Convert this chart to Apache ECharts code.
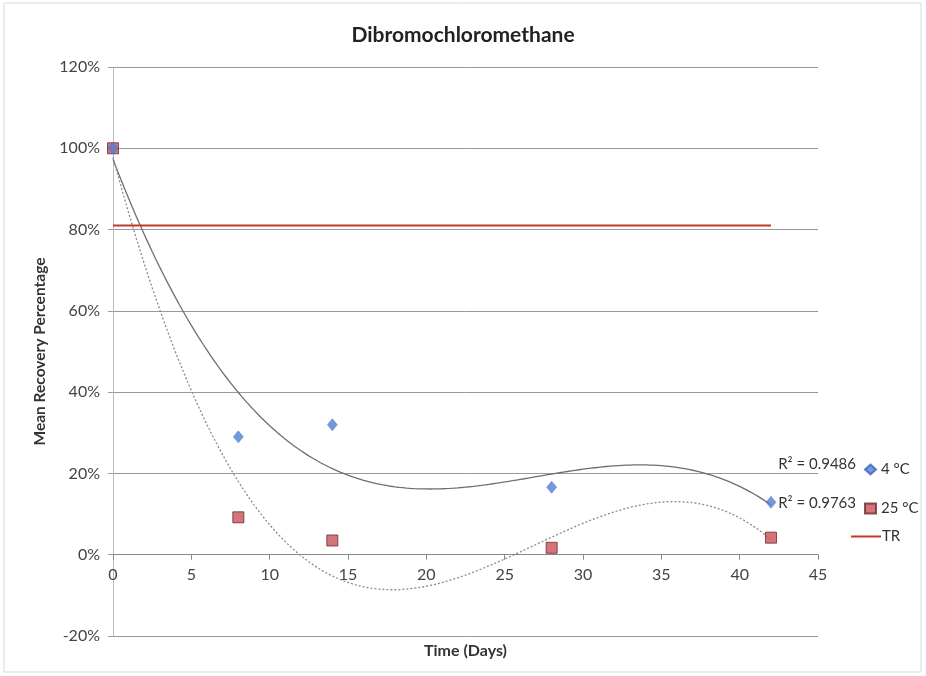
<!DOCTYPE html>
<html>
<head>
<meta charset="utf-8">
<script src="https://cdn.jsdelivr.net/npm/echarts@6/dist/echarts.min.js"></script>
<style>
html,body{margin:0;padding:0;background:#fff;}
#chart{width:926px;height:676px;}
</style>
</head>
<body>
<div id="chart"></div>
<script>
// ---- data ----
const days4 = [0, 8, 14, 28, 42];
const recovery4 = [100, 29, 32, 16.6, 12.9];
const days25 = [0, 8, 14, 28, 42];
const recovery25 = [100, 9.2, 3.5, 1.7, 4.2];
const trDays = [0, 42];
const trValues = [81, 81];
const r2Labels = ['R² = 0.9486', 'R² = 0.9763'];
const seriesNames = ['4 °C', '25 °C', 'TR'];

// cubic least-squares trendline (as Excel's polynomial order-3 trendline)
function cubicFit(xs, ys) {
  const n = 4;
  const A = [], b = [];
  for (let i = 0; i < n; i++) {
    A.push([]);
    for (let j = 0; j < n; j++) {
      let s = 0;
      xs.forEach(x => { s += Math.pow(x, i + j); });
      A[i].push(s);
    }
    let t = 0;
    xs.forEach((x, k) => { t += Math.pow(x, i) * ys[k]; });
    b.push(t);
  }
  for (let c = 0; c < n; c++) {
    let p = c;
    for (let r = c + 1; r < n; r++) if (Math.abs(A[r][c]) > Math.abs(A[p][c])) p = r;
    [A[c], A[p]] = [A[p], A[c]]; [b[c], b[p]] = [b[p], b[c]];
    for (let r = c + 1; r < n; r++) {
      const f = A[r][c] / A[c][c];
      for (let k = c; k < n; k++) A[r][k] -= f * A[c][k];
      b[r] -= f * b[c];
    }
  }
  const coef = new Array(n).fill(0);
  for (let r = n - 1; r >= 0; r--) {
    let s = b[r];
    for (let k = r + 1; k < n; k++) s -= A[r][k] * coef[k];
    coef[r] = s / A[r][r];
  }
  return coef;
}
function trendPoints(xs, ys) {
  const c = cubicFit(xs, ys);
  const out = [];
  const x0 = Math.min(...xs), x1 = Math.max(...xs);
  for (let x = x0; x <= x1 + 1e-9; x += 0.25) {
    out.push([x, c[0] + c[1] * x + c[2] * x * x + c[3] * x * x * x]);
  }
  return out;
}

const FONT = 'Lato';
const GRID_TOP = 67, GRID_BOTTOM = 40;
const plotH = 676 - GRID_TOP - GRID_BOTTOM;
const Y_MIN = -20, Y_MAX = 120;
const zeroOffset = -plotH * (0 - Y_MIN) / (Y_MAX - Y_MIN);

const chart = echarts.init(document.getElementById('chart'), null, {renderer: 'canvas'});
chart.setOption({
  backgroundColor: '#fff',
  animation: false,
  title: {
    text: 'Dibromochloromethane',
    left: 'center', top: 20,
    textStyle: {fontFamily: FONT, fontSize: 21, fontWeight: 'bold', color: '#222'}
  },
  grid: {left: 113, right: 108, top: GRID_TOP, bottom: GRID_BOTTOM, containLabel: false, outerBoundsMode: 'none'},
  legend: [
    {data: [seriesNames[0]], left: 859, top: 457, itemWidth: 11, itemHeight: 10, itemGap: 4,
     textStyle: {fontFamily: FONT, fontSize: 15, color: '#333'}},
    {data: [seriesNames[1]], left: 859, top: 496, itemWidth: 11, itemHeight: 10, itemGap: 4,
     textStyle: {fontFamily: FONT, fontSize: 15, color: '#333'}},
    {data: [{name: seriesNames[2], icon: 'rect'}], left: 846, top: 524, itemWidth: 30, itemHeight: 2,
     textStyle: {fontFamily: FONT, fontSize: 15, color: '#333', padding: [0, 0, 0, -4]}}
  ],
  xAxis: {
    type: 'value', min: 0, max: 45, interval: 5,
    offset: zeroOffset,
    name: 'Time (Days)', nameLocation: 'middle', nameGap: 88,
    nameTextStyle: {fontFamily: FONT, fontSize: 16, fontWeight: 'bold', color: '#333'},
    axisLine: {onZero: false, lineStyle: {color: '#888', width: 1}},
    axisTick: {show: true, inside: false, length: 5, lineStyle: {color: '#888'}},
    axisLabel: {fontFamily: FONT, fontSize: 16, color: '#444', margin: 12},
    splitLine: {show: false}
  },
  yAxis: {
    type: 'value', min: Y_MIN, max: Y_MAX, interval: 20,
    name: 'Mean Recovery Percentage', nameLocation: 'middle', nameGap: 64, nameRotate: 90,
    nameTextStyle: {fontFamily: FONT, fontSize: 15.5, fontWeight: 'bold', color: '#333'},
    axisLine: {show: true, onZero: false, lineStyle: {color: '#bbb'}},
    axisTick: {show: true, length: 5, lineStyle: {color: '#999'}},
    axisLabel: {fontFamily: FONT, fontSize: 16, color: '#444', formatter: '{value}%', margin: 13},
    splitLine: {show: true, lineStyle: {color: '#999', width: 1}}
  },
  series: [
    {
      name: 'trend4', type: 'line', silent: true, showSymbol: false, smooth: false,
      data: trendPoints(days4, recovery4),
      lineStyle: {color: '#6e6e6e', width: 1.3}, z: 2
    },
    {
      name: 'trend25', type: 'line', silent: true, showSymbol: false, smooth: false,
      data: trendPoints(days25, recovery25),
      lineStyle: {color: '#8a8a8a', width: 1.3, type: [2, 2]}, z: 2
    },
    {
      name: seriesNames[2], type: 'line', showSymbol: false,
      data: trDays.map((d, i) => [d, trValues[i]]),
      lineStyle: {color: '#c0392b', width: 2.2}, itemStyle: {color: '#c0392b'}, z: 3
    },
    {
      name: seriesNames[0], type: 'scatter', symbol: 'diamond', symbolSize: [10, 12],
      data: days4.map((d, i) => [d, recovery4[i]]),
      itemStyle: {color: '#4f7fd6', borderColor: '#3a63b8', borderWidth: 0.5}, z: 5
    },
    {
      name: seriesNames[1], type: 'scatter', symbol: 'rect', symbolSize: 11,
      data: days25.map((d, i) => [d, recovery25[i]]),
      itemStyle: {color: '#c9515a', borderColor: '#6b2a2a', borderWidth: 1}, z: 4
    }
  ],
  graphic: [
    {type: 'rect', shape: {x: 4, y: 3, width: 917, height: 669},
     style: {fill: 'none', stroke: '#d8d8d8', lineWidth: 1}, silent: true},
    {type: 'text', right: 926 - 856, top: 457,
     style: {text: r2Labels[0], font: '15px Lato', fill: '#333'}},
    {type: 'text', right: 926 - 856, top: 496,
     style: {text: r2Labels[1], font: '15px Lato', fill: '#333'}}
  ]
});
</script>
</body>
</html>
